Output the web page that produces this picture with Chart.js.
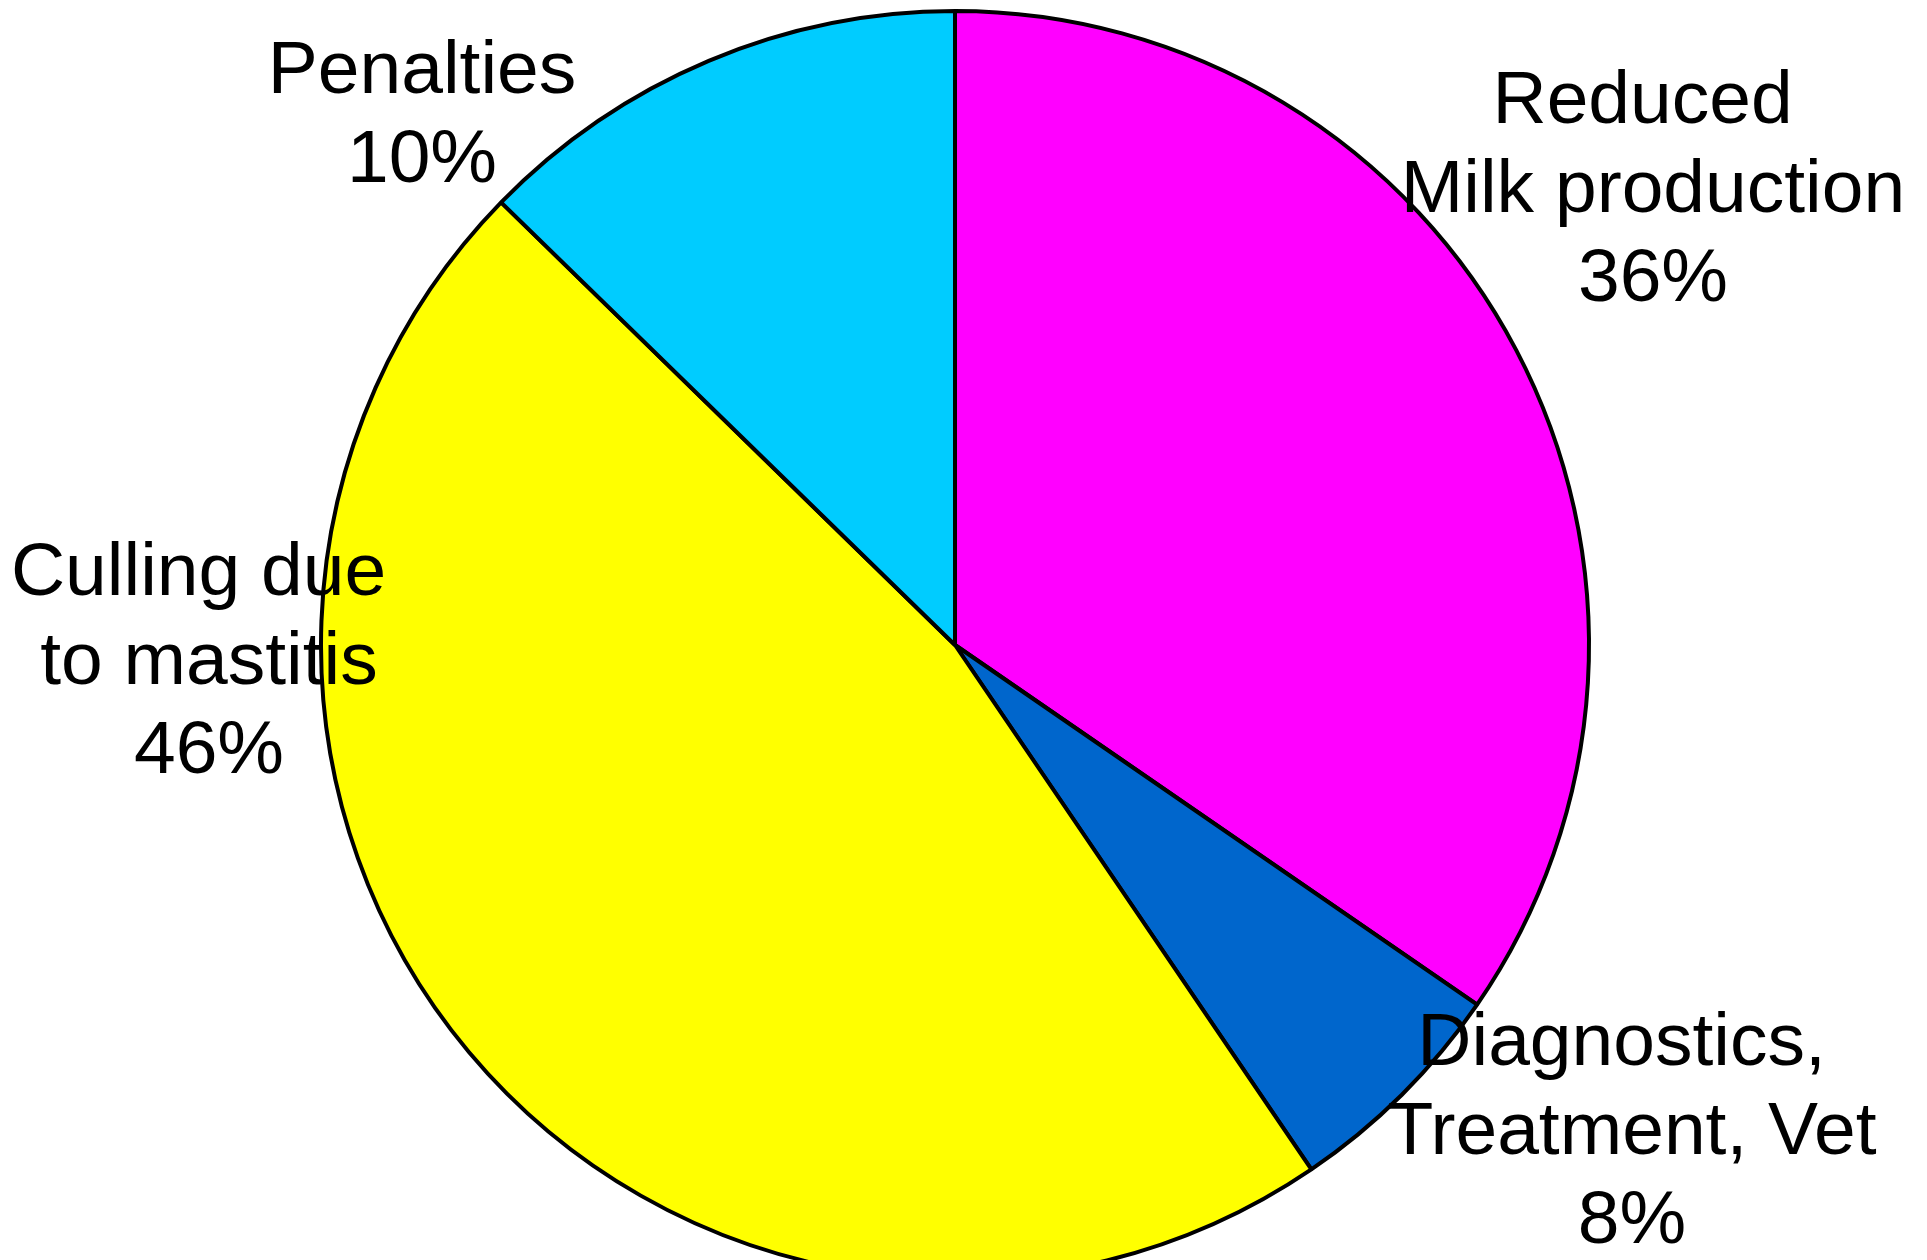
<!DOCTYPE html>
<html>
<head>
<meta charset="utf-8">
<script src="https://cdn.jsdelivr.net/npm/chart.js@4/dist/chart.umd.min.js"></script>
<style>
  html, body { margin: 0; padding: 0; background: #fff; overflow: hidden; }
  #wrap { position: absolute; left: 0; top: 0; }
</style>
</head>
<body>
<div id="wrap"><canvas id="costPie" width="1910" height="1290"></canvas></div>
<script>
// slice sizes as drawn (the printed percentages are kept as text below)
const categories = ['Reduced Milk production', 'Diagnostics, Treatment, Vet', 'Culling due to mastitis', 'Penalties'];
const sliceValues = [34.6, 5.9, 46.8, 12.7];
// trailing spaces kept like in the original line breaks
const labelLines = [
    ['Reduced ', 'Milk production', '36%'],
    ['Diagnostics, ', 'Treatment, Vet', '8%'],
    ['Culling due ', 'to mastitis', '46%'],
    ['Penalties', '10%'],
];
const sliceColors = ['#FF00FF', '#0066CC', '#FFFF00', '#00CCFF'];

// where each label block sits, offset from the pie centre (px, first baseline)
const labelOffsets = [
    [698, -522],
    [677, 420],
    [-746, -50],
    [-533, -552],
];

// draws the multi-line labels on top of the pie, like the original
const pieLabels = {
    id: 'pieLabels',
    afterDatasetsDraw(chart) {
        const ctx = chart.ctx;
        const arc = chart.getDatasetMeta(0).data[0];
        const cx = arc.x, cy = arc.y;
        ctx.save();
        ctx.font = '75px "Liberation Sans", Arial, sans-serif';
        ctx.fillStyle = '#000';
        ctx.textAlign = 'center';
        ctx.textBaseline = 'alphabetic';
        labelLines.forEach((lines, i) => {
            const [dx, dy] = labelOffsets[i];
            lines.forEach((txt, j) => {
                ctx.fillText(txt, cx + dx, cy + dy + j * 89);
            });
        });
        ctx.restore();
    }
};

new Chart(document.getElementById('costPie'), {
    type: 'pie',
    data: {
        labels: categories,
        datasets: [{
            data: sliceValues,
            backgroundColor: sliceColors,
            borderColor: '#000',
            borderWidth: 4,
        }],
    },
    options: {
        responsive: false,
        animation: false,
        radius: 634,
        layout: { padding: 0 },
        plugins: {
            legend: { display: false },
            tooltip: { enabled: false },
        },
    },
    plugins: [pieLabels],
});
</script>
</body>
</html>
